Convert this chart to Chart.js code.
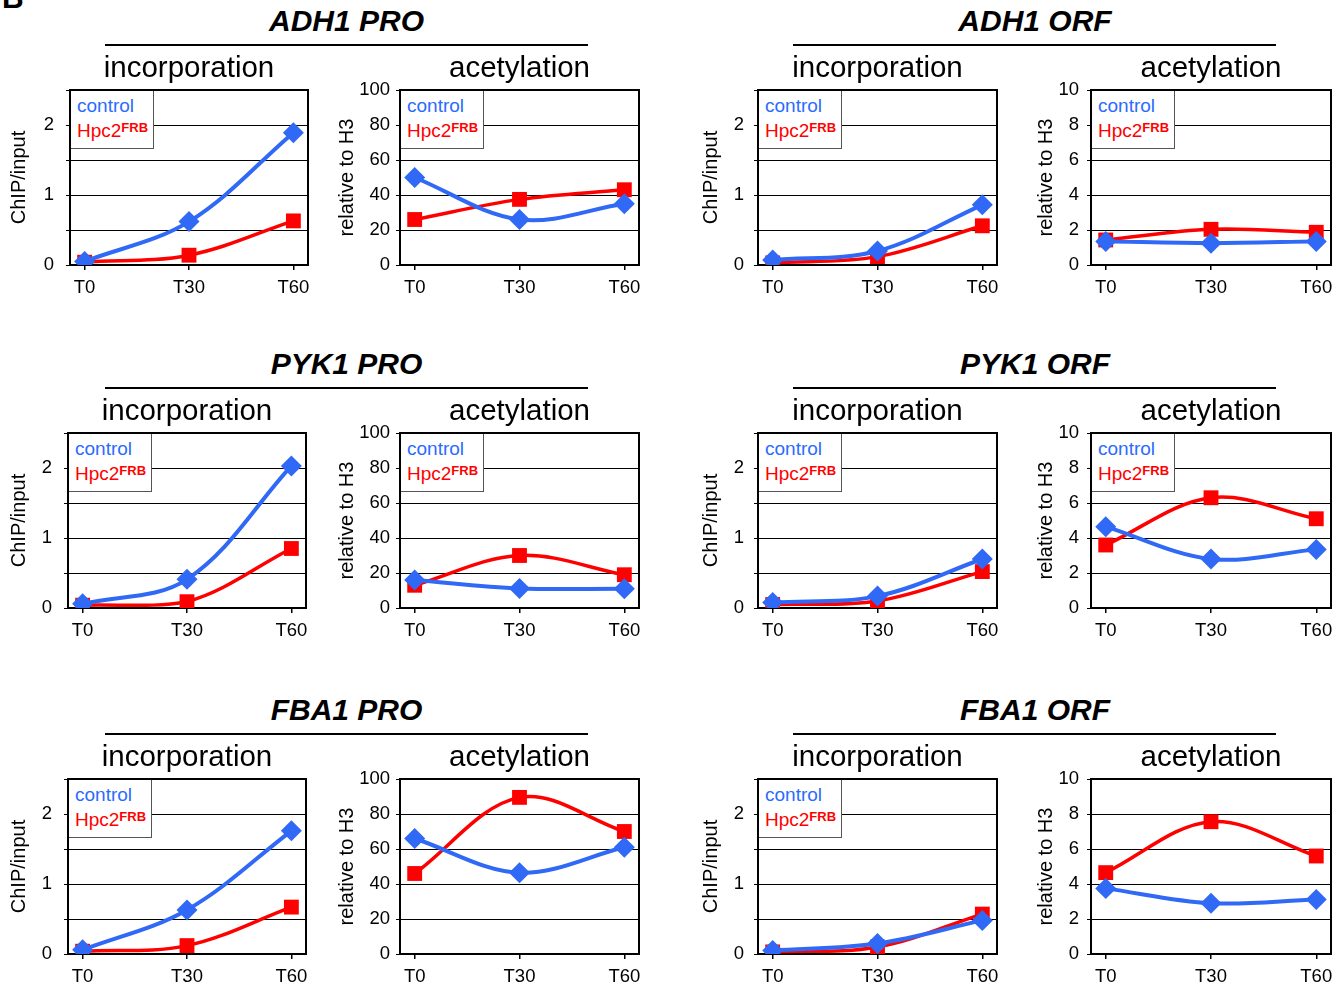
<!DOCTYPE html>
<html>
<head>
<meta charset="utf-8">
<script src="https://cdn.jsdelivr.net/npm/chart.js@4.4.1/dist/chart.umd.min.js"></script>
<style>
  html, body { margin: 0; padding: 0; background: #fff; }
  body { width: 1344px; height: 986px; position: relative; overflow: hidden;
         font-family: "Liberation Sans", Arial, Helvetica, sans-serif; color: #000; }
  canvas { position: absolute; }
  .gene { position: absolute; width: 500px; text-align: center; font-weight: bold; font-style: italic;
          font-size: 30px; line-height: 30px; white-space: nowrap; }
  .rule { position: absolute; height: 2px; background: #000; }
  .panel-letter { position: absolute; font-weight: bold; font-size: 30px; line-height: 30px; }
  .legend { position: absolute; box-sizing: border-box; width: 83px; height: 58px; background: #fff;
            border-right: 1.5px solid #555; border-bottom: 1.5px solid #555;
            padding: 2px 0 0 6px; font-size: 19px; line-height: 25px; z-index: 2; white-space: nowrap; }
  .legend sup { font-size: 13px; font-weight: bold; vertical-align: 5px; line-height: 0; }
</style>
</head>
<body>
<div class="panel-letter" style="left:2px;top:-17px;">B</div>
<script>
// ---------------- data ----------------
const categories = ['T0', 'T30', 'T60'];
const seriesNames = ['control', 'Hpc2'];
const seriesSup = ['', 'FRB'];
const genes = ['ADH1 PRO', 'ADH1 ORF', 'PYK1 PRO', 'PYK1 ORF', 'FBA1 PRO', 'FBA1 ORF'];
const panelTitles = ['incorporation', 'acetylation'];
const yAxisTitles = ['ChIP/input', 'relative to H3'];

const incTickValues = [0, 0.5, 1, 1.5, 2, 2.5];
const incTickLabels = ['0', '', '1', '', '2', ''];
const proAcTickValues = [0, 20, 40, 60, 80, 100];
const proAcTickLabels = ['0', '20', '40', '60', '80', '100'];
const orfAcTickValues = [0, 2, 4, 6, 8, 10];
const orfAcTickLabels = ['0', '2', '4', '6', '8', '10'];

// ADH1 PRO
const adh1ProIncControl = [0.05, 0.62, 1.89];
const adh1ProIncHpc2    = [0.04, 0.14, 0.63];
const adh1ProAcControl  = [50, 26, 35];
const adh1ProAcHpc2     = [26, 37.5, 43];
// ADH1 ORF
const adh1OrfIncControl = [0.07, 0.20, 0.86];
const adh1OrfIncHpc2    = [0.03, 0.12, 0.56];
const adh1OrfAcControl  = [1.35, 1.25, 1.35];
const adh1OrfAcHpc2     = [1.43, 2.04, 1.87];
// PYK1 PRO
const pyk1ProIncControl = [0.06, 0.41, 2.03];
const pyk1ProIncHpc2    = [0.04, 0.09, 0.85];
const pyk1ProAcControl  = [16, 11.2, 11];
const pyk1ProAcHpc2     = [13, 30, 19];
// PYK1 ORF
const pyk1OrfIncControl = [0.08, 0.17, 0.70];
const pyk1OrfIncHpc2    = [0.05, 0.10, 0.52];
const pyk1OrfAcControl  = [4.65, 2.8, 3.35];
const pyk1OrfAcHpc2     = [3.6, 6.3, 5.1];
// FBA1 PRO
const fba1ProIncControl = [0.06, 0.63, 1.76];
const fba1ProIncHpc2    = [0.04, 0.12, 0.67];
const fba1ProAcControl  = [66, 46.5, 61];
const fba1ProAcHpc2     = [46, 89.5, 70];
// FBA1 ORF
const fba1OrfIncControl = [0.05, 0.15, 0.48];
const fba1OrfIncHpc2    = [0.03, 0.10, 0.57];
const fba1OrfAcControl  = [3.75, 2.9, 3.12];
const fba1OrfAcHpc2     = [4.65, 7.56, 5.6];

// ---------------- layout & style ----------------
const FONT = '"Liberation Sans", Arial, Helvetica, sans-serif';
const BLUE = '#3069F5';
const BLUE_TEXT = '#2A6BFF';
const RED = '#FF0000';
const Y_AXIS_W = 70, PAD_R = 14, TITLE_H = 38, PLOT_H = 175, X_AXIS_H = 40;
const rowPlotTop = [90, 433, 779];
const rowGeneY = [6, 349, 695];
const rowRuleY = [44, 387, 733];
const groupRule = [{left: 105, width: 483, center: 346.5}, {left: 793, width: 483, center: 1035}];
const colSpec = [
  {plotLeft: [70, 68, 68], plotW: 238, titleX: 19.5, tickPad: 12, kind: 0, grp: 0},
  {plotLeft: [400, 400, 400], plotW: 239, titleX: 347, tickPad: 6, kind: 1, grp: 0},
  {plotLeft: [758, 758, 758], plotW: 239, titleX: 711, tickPad: 10, kind: 0, grp: 1},
  {plotLeft: [1091, 1091, 1091], plotW: 240, titleX: 1046, tickPad: 8, kind: 1, grp: 1}
];

const panels = [
  [adh1ProIncControl, adh1ProIncHpc2, adh1ProAcControl, adh1ProAcHpc2, adh1OrfIncControl, adh1OrfIncHpc2, adh1OrfAcControl, adh1OrfAcHpc2],
  [pyk1ProIncControl, pyk1ProIncHpc2, pyk1ProAcControl, pyk1ProAcHpc2, pyk1OrfIncControl, pyk1OrfIncHpc2, pyk1OrfAcControl, pyk1OrfAcHpc2],
  [fba1ProIncControl, fba1ProIncHpc2, fba1ProAcControl, fba1ProAcHpc2, fba1OrfIncControl, fba1OrfIncHpc2, fba1OrfAcControl, fba1OrfAcHpc2]
];

Chart.defaults.font.family = FONT;
Chart.defaults.color = '#000';

const framePlugin = {
  id: 'frame',
  beforeDatasetsDraw(chart) {
    const {ctx, chartArea: a} = chart;
    ctx.save();
    ctx.strokeStyle = '#000';
    ctx.lineWidth = 2;
    ctx.strokeRect(a.left, a.top, a.right - a.left, a.bottom - a.top);
    ctx.restore();
  }
};

function addDiv(cls, style, html) {
  const d = document.createElement('div');
  d.className = cls;
  Object.assign(d.style, style);
  d.innerHTML = html;
  document.body.appendChild(d);
  return d;
}

function buildChart(row, col) {
  const cs = colSpec[col];
  const plotLeft = cs.plotLeft[row];
  const plotTop = rowPlotTop[row];
  const control = panels[row][col * 2];
  const hpc2 = panels[row][col * 2 + 1];
  let tickValues, tickLabels;
  if (cs.kind === 0) { tickValues = incTickValues; tickLabels = incTickLabels; }
  else if (cs.grp === 0) { tickValues = proAcTickValues; tickLabels = proAcTickLabels; }
  else { tickValues = orfAcTickValues; tickLabels = orfAcTickLabels; }

  const canvas = document.createElement('canvas');
  const W = Y_AXIS_W + cs.plotW + PAD_R;
  const H = TITLE_H + PLOT_H + X_AXIS_H;
  canvas.width = W; canvas.height = H;
  canvas.style.width = W + 'px'; canvas.style.height = H + 'px';
  const canvasLeft = plotLeft - Y_AXIS_W;
  canvas.style.left = canvasLeft + 'px';
  canvas.style.top = (plotTop - TITLE_H) + 'px';
  document.body.appendChild(canvas);

  new Chart(canvas, {
    type: 'line',
    data: {
      datasets: [
        {
          label: seriesNames[0],
          data: control.map((v, i) => ({x: i, y: v})),
          borderColor: BLUE, backgroundColor: BLUE, borderWidth: 4,
          pointStyle: 'rectRot', pointRadius: 10.5, pointBorderWidth: 0,
          pointBackgroundColor: BLUE, pointHoverRadius: 10.5, tension: 0.35
        },
        {
          label: seriesNames[1] + seriesSup[1],
          data: hpc2.map((v, i) => ({x: i, y: v})),
          borderColor: RED, backgroundColor: RED, borderWidth: 3.5,
          pointStyle: 'rect', pointRadius: 10.5, pointBorderWidth: 0,
          pointBackgroundColor: RED, pointHoverRadius: 10.5, tension: 0.35
        }
      ]
    },
    options: {
      responsive: false, animation: false, devicePixelRatio: 1,
      events: [],
      layout: {padding: {left: 0, right: PAD_R, top: 0, bottom: 0}},
      plugins: {
        legend: {display: false},
        tooltip: {enabled: false},
        title: {
          display: true, text: panelTitles[cs.kind], fullSize: false, color: '#000',
          font: {family: FONT, size: 29.5, weight: 'normal', lineHeight: '30px'},
          padding: {top: 2, bottom: 6}
        }
      },
      scales: {
        x: {
          type: 'linear', min: -0.14, max: 2.14,
          afterBuildTicks: s => { s.ticks = categories.map((_, i) => ({value: i})); },
          afterFit: s => { s.height = X_AXIS_H; },
          ticks: {callback: v => categories[v], font: {size: 18.5}, color: '#000',
                  padding: 7, maxRotation: 0, autoSkip: false},
          grid: {drawOnChartArea: false, drawTicks: true, tickLength: 5, color: '#000', lineWidth: 1.5},
          border: {display: false}
        },
        y: {
          type: 'linear', min: tickValues[0], max: tickValues[tickValues.length - 1],
          afterBuildTicks: s => { s.ticks = tickValues.map(v => ({value: v})); },
          afterFit: s => { s.width = Y_AXIS_W; },
          ticks: {callback: (v, i) => tickLabels[i], font: {size: 18.5}, color: '#000',
                  padding: cs.tickPad, autoSkip: false},
          grid: {color: '#000', lineWidth: 1, tickLength: 4, drawTicks: true},
          border: {display: false},
          title: {
            display: true, text: yAxisTitles[cs.kind], color: '#000',
            font: {size: 20, lineHeight: '24px'},
            padding: {top: cs.titleX - canvasLeft - 12, bottom: 0}
          }
        }
      }
    },
    plugins: [framePlugin]
  });

  const hasLegend = row < 2 || cs.kind === 0;
  if (hasLegend) {
    const colors = [BLUE_TEXT, RED];
    const html = seriesNames.map((n, i) =>
      `<div style="color:${colors[i]}">${n}${seriesSup[i] ? `<sup>${seriesSup[i]}</sup>` : ''}</div>`).join('');
    addDiv('legend', {left: (plotLeft + 1) + 'px', top: (plotTop + 1) + 'px'}, html);
  }
}

for (let row = 0; row < 3; row++) {
  for (let g = 0; g < 2; g++) {
    const gr = groupRule[g];
    addDiv('gene', {left: (gr.center - 250) + 'px', top: rowGeneY[row] + 'px'}, genes[row * 2 + g]);
    addDiv('rule', {left: gr.left + 'px', top: rowRuleY[row] + 'px', width: gr.width + 'px'}, '');
  }
  for (let col = 0; col < 4; col++) buildChart(row, col);
}
</script>
</body>
</html>
